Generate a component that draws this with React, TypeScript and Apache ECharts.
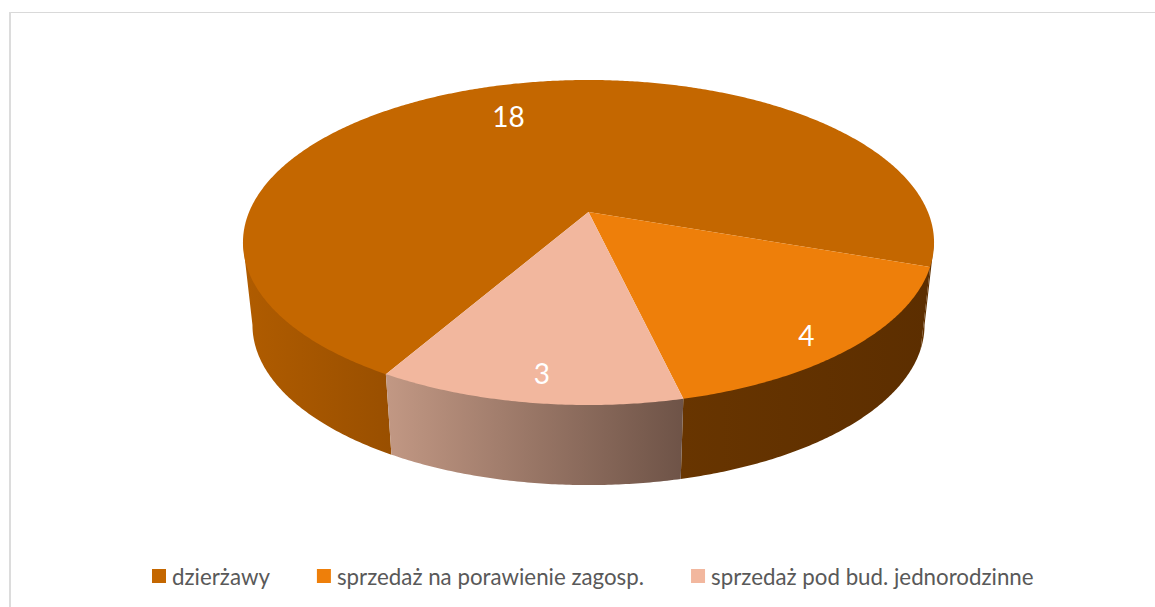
import React, { useEffect, useRef } from "react";
import * as echarts from "echarts";

const categories = ["dzierżawy", "sprzedaż na porawienie zagosp.", "sprzedaż pod bud. jednorodzinne"];
const values = [18, 4, 3];
const topColors = ["#C46700", "#EE7F0A", "#F2B79E"];
const labelRadii = [0.74, 0.885, 0.87];
const labelAngleOffsets = [-0.7, 2.8, -0.8];

// Perspective of the disc (circle -> screen)
const CX = 588.5;
const A = 339.4;
const B = 117;
const C = 212;
const P = 0.1877;
const START = 120;
const VIS_FROM = 10.8;
const VIS_TO = 169.2;
const total = values.reduce((a, b) => a + b, 0);

function topPoint(deg: number, r = 1): [number, number] {
  const t = (deg * Math.PI) / 180;
  const u = r * Math.cos(t);
  const v = r * Math.sin(t);
  const d = 1 - P * v;
  return [CX + (A * u) / d, (B * v + C) / d];
}
function bottomPoint(deg: number): [number, number] {
  const [x, y] = topPoint(deg);
  return [CX + (x - CX) * 0.9725, 325 + (y - 242.5) * 0.985];
}
function arc(from: number, to: number): number[] {
  const out: number[] = [];
  const n = Math.max(2, Math.ceil(Math.abs(to - from) * 2));
  for (let i = 0; i <= n; i++) out.push(from + ((to - from) * i) / n);
  return out;
}
function sideFill(index: number, mid: number) {
  const m = ((mid % 360) + 360) % 360;
  let stops: [string, string];
  if (index === 0 && m > 90) stops = ["#B05C00", "#994F00"];
  else if (index === 2) stops = ["#C29884", "#6E5347"];
  else stops = ["#683500", "#5C2E00"];
  return {
    type: "linear",
    x: 0,
    y: 0,
    x2: 1,
    y2: 0,
    colorStops: [
      { offset: 0, color: stops[0] },
      { offset: 1, color: stops[1] },
    ],
  };
}

function sliceRenderer(index: number) {
  return (_params: any, api: any) => {
    const value = api.value(0) as number;
    const before = values.slice(0, index).reduce((a, b) => a + b, 0);
    const a0 = START + (before / total) * 360;
    const a1 = a0 + (value / total) * 360;
    const children: any[] = [];
    for (const k of [0, 360]) {
      const from = Math.max(a0, VIS_FROM + k);
      const to = Math.min(a1, VIS_TO + k);
      if (to <= from) continue;
      const angles = arc(from, to);
      const last = angles.length - 1;
      const points = [
        // The rim runs slightly under the top face, so no pale seam shows between them.
        ...angles.map((d, i) => topPoint(d, i === 0 || i === last ? 1 : 0.985)),
        ...angles.slice().reverse().map((d) => bottomPoint(d)),
      ];
      children.push({
        type: "polygon",
        shape: { points },
        style: { fill: sideFill(index, (from + to) / 2) },
      });
    }
    children.push({
      type: "polygon",
      shape: { points: [topPoint(0, 0), ...arc(a0, a1).map((d) => topPoint(d))] },
      style: { fill: topColors[index] },
    });
    const [lx, ly] = topPoint((a0 + a1) / 2 + labelAngleOffsets[index], labelRadii[index]);
    children.push({
      type: "text",
      style: {
        text: String(value),
        x: lx,
        y: ly,
        fill: "#FFFFFF",
        fontSize: 28,
        fontFamily: "Lato",
        align: "center",
        verticalAlign: "middle",
      },
    });
    return { type: "group", children };
  };
}

export default function App() {
  const ref = useRef<HTMLDivElement>(null);
  useEffect(() => {
    const chart = echarts.init(ref.current!, null, { renderer: "svg" });
    chart.setOption({
      animation: false,
      backgroundColor: "#FFFFFF",
      legend: {
        left: 147,
        top: 560,
        icon: "rect",
        itemWidth: 14,
        itemHeight: 14,
        itemGap: 47,
        selectedMode: false,
        textStyle: { color: "#595959", fontSize: 22.3, fontFamily: "Lato", padding: [0, 0, 0, 1] },
        data: categories,
      },
      graphic: [
        {
          type: "line",
          shape: { x1: 9, y1: 12.5, x2: 1155, y2: 12.5 },
          style: { stroke: "#D9D9D9", lineWidth: 1 },
        },
        {
          type: "line",
          shape: { x1: 10, y1: 12, x2: 10, y2: 607 },
          style: { stroke: "#DCDCDC", lineWidth: 2 },
        },
      ],
      series: categories.map((name, i) => ({
        type: "custom",
        name,
        coordinateSystem: "none",
        silent: true,
        itemStyle: { color: topColors[i] },
        data: [[values[i]]],
        renderItem: sliceRenderer(i),
      })),
    });
    return () => chart.dispose();
  }, []);
  return <div ref={ref} style={{ position: "fixed", left: 0, top: 0, width: 1155, height: 607 }} />;
}
